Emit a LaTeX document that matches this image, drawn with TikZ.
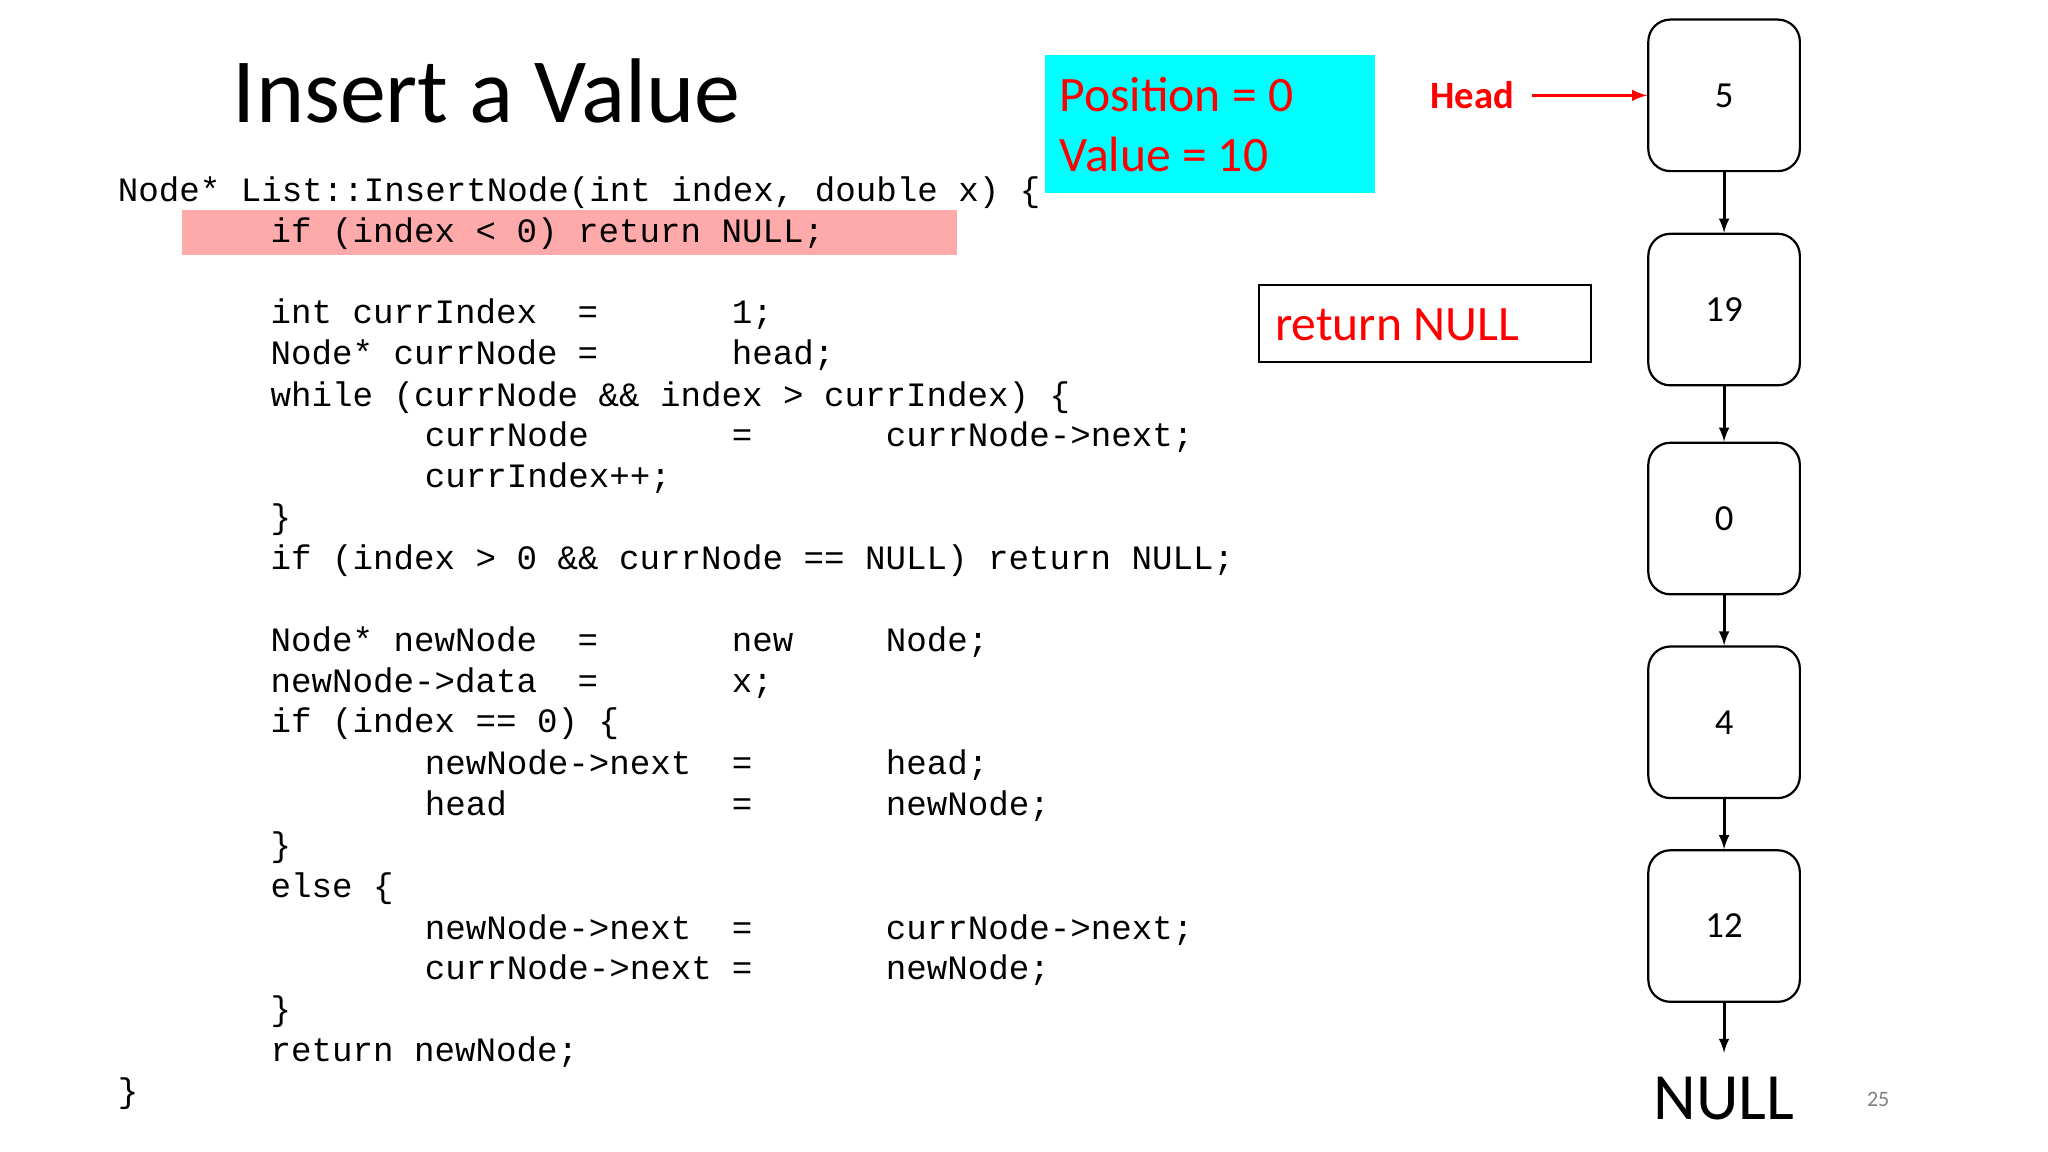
\documentclass[tikz,border=0pt]{standalone}
\usepackage{fontspec}
\setmainfont{Carlito}
\setmonofont{Liberation Mono}
\definecolor{aqua}{RGB}{0,255,255}
\definecolor{hl}{RGB}{255,170,170}
\begin{document}
\begin{tikzpicture}[x=0.025cm,y=-0.025cm,
  code/.style={anchor=base west,inner sep=0,font=\fontsize{18.6}{20}\ttfamily},
  lnode/.style={draw,line width=1.2pt,rounded corners=12pt,minimum width=2.9cm,minimum height=2.9cm,font=\fontsize{20}{22}\selectfont},
  link/.style={-latex,line width=1.6pt}]
\useasboundingbox (0,0) rectangle (1568,882);
\fill[hl] (139,161) rectangle (733,195);
\node[anchor=base west,inner sep=0,font=\fontsize{50}{52}\selectfont] (title) at (178,94) {Insert a Value};
\begin{scope}[yshift=-0.05cm]
\node[code] (l1) at (90,152) {Node* List::InsertNode(int index, double x) \{};
\node[code] (l2) at (207,184) {if (index < 0) return NULL;};
\node[code] (l3a) at (207,246) {int currIndex};
\node[code] (l3b) at (442,246) {=};
\node[code] (l3c) at (560,246) {1;};
\node[code] (l4a) at (207,277) {Node* currNode};
\node[code] (l4b) at (442,277) {=};
\node[code] (l4c) at (560,277) {head;};
\node[code] (l5) at (207,309) {while (currNode \&\& index > currIndex) \{};
\node[code] (l6a) at (325,340) {currNode};
\node[code] (l6b) at (560,340) {=};
\node[code] (l6c) at (678,340) {currNode->next;};
\node[code] (l7) at (325,371) {currIndex++;};
\node[code] (l8) at (207,403) {\}};
\node[code] (l9) at (207,434) {if (index > 0 \&\& currNode == NULL) return NULL;};
\node[code] (l10a) at (207,497) {Node* newNode};
\node[code] (l10b) at (442,497) {=};
\node[code] (l10c) at (560,497) {new};
\node[code] (l10d) at (678,497) {Node;};
\node[code] (l11a) at (207,528) {newNode->data};
\node[code] (l11b) at (442,528) {=};
\node[code] (l11c) at (560,528) {x;};
\node[code] (l12) at (207,559) {if (index == 0) \{};
\node[code] (l13a) at (325,591) {newNode->next};
\node[code] (l13b) at (560,591) {=};
\node[code] (l13c) at (678,591) {head;};
\node[code] (l14a) at (325,622) {head};
\node[code] (l14b) at (560,622) {=};
\node[code] (l14c) at (678,622) {newNode;};
\node[code] (l15) at (207,654) {\}};
\node[code] (l16) at (207,685) {else \{};
\node[code] (l17a) at (325,717) {newNode->next};
\node[code] (l17b) at (560,717) {=};
\node[code] (l17c) at (678,717) {currNode->next;};
\node[code] (l18a) at (325,748) {currNode->next};
\node[code] (l18b) at (560,748) {=};
\node[code] (l18c) at (678,748) {newNode;};
\node[code] (l19) at (207,779) {\}};
\node[code] (l20) at (207,811) {return newNode;};
\node[code] (l21) at (90,842) {\}};
\end{scope}
% position box
\fill[aqua] (800,42) rectangle (1053,148);
\node[anchor=base west,inner sep=0,text=red,font=\fontsize{27}{29}\selectfont] (pos) at (811,85) {Position = 0};
\node[anchor=base west,inner sep=0,text=red,font=\fontsize{27}{29}\selectfont] (val) at (811,131) {Value = 10};
\draw[line width=1.2pt] (964,218) rectangle (1218,277);
\node[anchor=base west,inner sep=0,text=red,font=\fontsize{27}{29}\selectfont] (ret) at (976,261) {return NULL};
% list
\node[lnode] (n1) at (1320,73) {5};
\node[lnode] (n2) at (1320,237) {19};
\node[lnode] (n3) at (1320,397) {0};
\node[lnode] (n4) at (1320,553) {4};
\node[lnode] (n5) at (1320,709) {12};
\node[font=\fontsize{36}{38}\selectfont,inner sep=0,anchor=north] (null) at (1320,824) {NULL};
\coordinate (nulltop) at (1320,806);
\node[text=red,font=\fontsize{21}{22}\selectfont\bfseries,inner sep=0,anchor=center] (head) at (1127,73) {Head};
\draw[-latex,red,line width=1.8pt] ([xshift=0.35cm]head.east) -- (n1);
\draw[link] (n1) -- (n2);
\draw[link] (n2) -- (n3);
\draw[link] (n3) -- (n4);
\draw[link] (n4) -- (n5);
\draw[link] (n5) -- (nulltop);
\node[text=gray,font=\fontsize{12}{13}\selectfont] (pg) at (1438,842) {25};
\end{tikzpicture}
\end{document}
